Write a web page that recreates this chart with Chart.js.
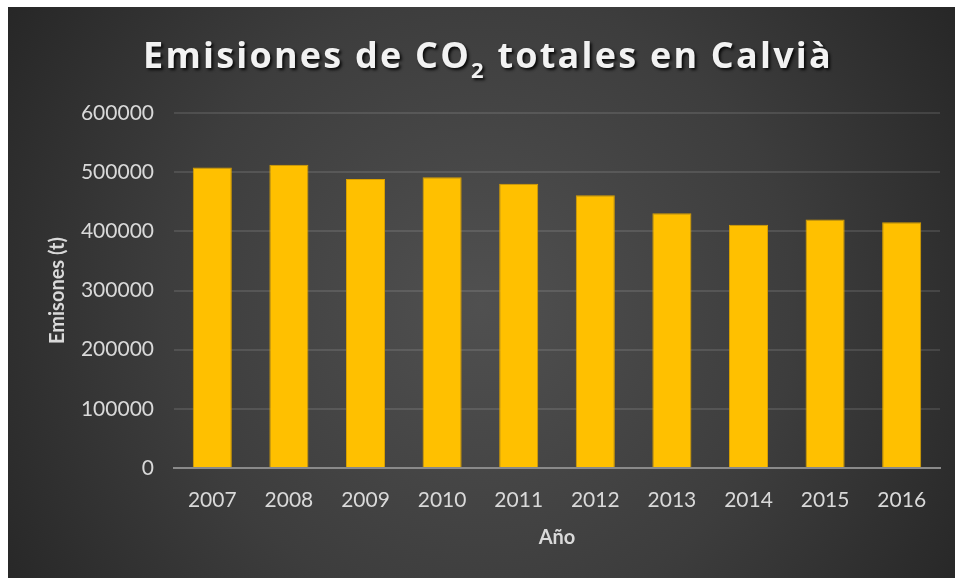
<!DOCTYPE html>
<html>
<head>
<meta charset="utf-8">
<script src="https://cdn.jsdelivr.net/npm/chart.js@4/dist/chart.umd.min.js"></script>
<style>
  html, body { margin: 0; padding: 0; background: #ffffff; }
  #wrap { position: absolute; left: 8px; top: 7px; width: 947px; height: 571px; }
</style>
</head>
<body>
<div id="wrap"><canvas id="c"></canvas></div>
<script>
const years = ['2007', '2008', '2009', '2010', '2011', '2012', '2013', '2014', '2015', '2016'];
const emissions = [508000, 512500, 488500, 491500, 480500, 461000, 430500, 411000, 420000, 415500];
const yTicks = [0, 100000, 200000, 300000, 400000, 500000, 600000];
const titleMain = 'Emisiones de CO';
const titleSub = '2';
const titleEnd = ' totales en Calvià';
const xTitle = 'Año';
const yTitle = 'Emisones (t)';

const bgPlugin = {
  id: 'bg',
  beforeDraw(chart) {
    const ctx = chart.ctx, w = chart.width, h = chart.height;
    ctx.save();
    const g = ctx.createRadialGradient(w * 0.5, h * 0.52, 0, w * 0.5, h * 0.52, w * 0.6);
    g.addColorStop(0, '#505050');
    g.addColorStop(0.55, '#3d3d3d');
    g.addColorStop(1, '#262626');
    ctx.fillStyle = g;
    ctx.fillRect(0, 0, w, h);
    ctx.restore();
  }
};

const titlePlugin = {
  id: 'subTitle',
  afterDraw(chart) {
    const ctx = chart.ctx;
    ctx.save();
    const big = 'bold 36px "Open Sans", Lato, sans-serif';
    const small = 'bold 22px "Open Sans", Lato, sans-serif';
    ctx.letterSpacing = '0px';
    ctx.font = big;
    const wA = ctx.measureText(titleMain).width;
    const wB = ctx.measureText(titleEnd).width;
    ctx.font = small;
    const wS = ctx.measureText(titleSub).width;
    const n = titleMain.length + titleSub.length + titleEnd.length;
    const target = 690;
    const ls = Math.max(0, (target - (wA + wB + wS)) / n);
    const total = wA + wB + wS + ls * n;
    let x = 480 - total / 2;
    const base = 61;
    ctx.fillStyle = '#f2f2f2';
    ctx.shadowColor = 'rgba(0,0,0,0.85)';
    ctx.shadowOffsetX = 2;
    ctx.shadowOffsetY = 2;
    ctx.shadowBlur = 3;
    ctx.textBaseline = 'alphabetic';
    ctx.textAlign = 'left';
    ctx.letterSpacing = ls + 'px';
    ctx.font = big;
    ctx.fillText(titleMain, x, base);
    x += wA + ls * titleMain.length;
    ctx.font = small;
    ctx.fillText(titleSub, x, base + 10);
    x += wS + ls * titleSub.length;
    ctx.font = big;
    ctx.fillText(titleEnd, x, base);
    ctx.restore();
  }
};

new Chart(document.getElementById('c'), {
  type: 'bar',
  data: {
    labels: years,
    datasets: [{
      label: yTitle,
      data: emissions,
      backgroundColor: '#FFC000',
      borderColor: '#D9A000',
      borderWidth: 1,
      barPercentage: 0.51,
      categoryPercentage: 1.0
    }]
  },
  options: {
    responsive: true,
    maintainAspectRatio: false,
    animation: false,
    layout: { padding: { top: 106, right: 15, bottom: 0, left: 0 } },
    plugins: {
      legend: { display: false },
      title: { display: false, text: titleMain + '₂' + titleEnd },
      tooltip: { enabled: false }
    },
    scales: {
      x: {
        offset: true,
        grid: { display: false, drawTicks: false },
        border: { display: true, color: '#8a8a8a', width: 2 },
        ticks: { color: '#d9d9d9', font: { family: 'Lato, "Open Sans", sans-serif', size: 21 }, padding: 20, maxRotation: 0 },
        title: { display: true, text: xTitle, color: '#d9d9d9', font: { family: 'Lato, "Open Sans", sans-serif', size: 20, weight: 'bold' }, padding: { top: 0, bottom: 28 } },
        afterFit(scale) { scale.height = 110; }
      },
      y: {
        min: 0,
        max: 600000,
        afterBuildTicks(scale) { scale.ticks = yTicks.map(v => ({ value: v })); },
        grid: { color: 'rgba(255,255,255,0.11)', lineWidth: 2, drawTicks: false },
        border: { display: false },
        ticks: { color: '#d9d9d9', font: { family: 'Lato, "Open Sans", sans-serif', size: 21 }, padding: 20, callback: v => String(v) },
        title: { display: true, text: yTitle, color: '#d9d9d9', font: { family: 'Lato, "Open Sans", sans-serif', size: 20, weight: 'bold' }, padding: { top: 38, bottom: 0 } },
        afterFit(scale) { scale.width = 166; }
      }
    }
  },
  plugins: [bgPlugin, titlePlugin]
});
</script>
</body>
</html>
